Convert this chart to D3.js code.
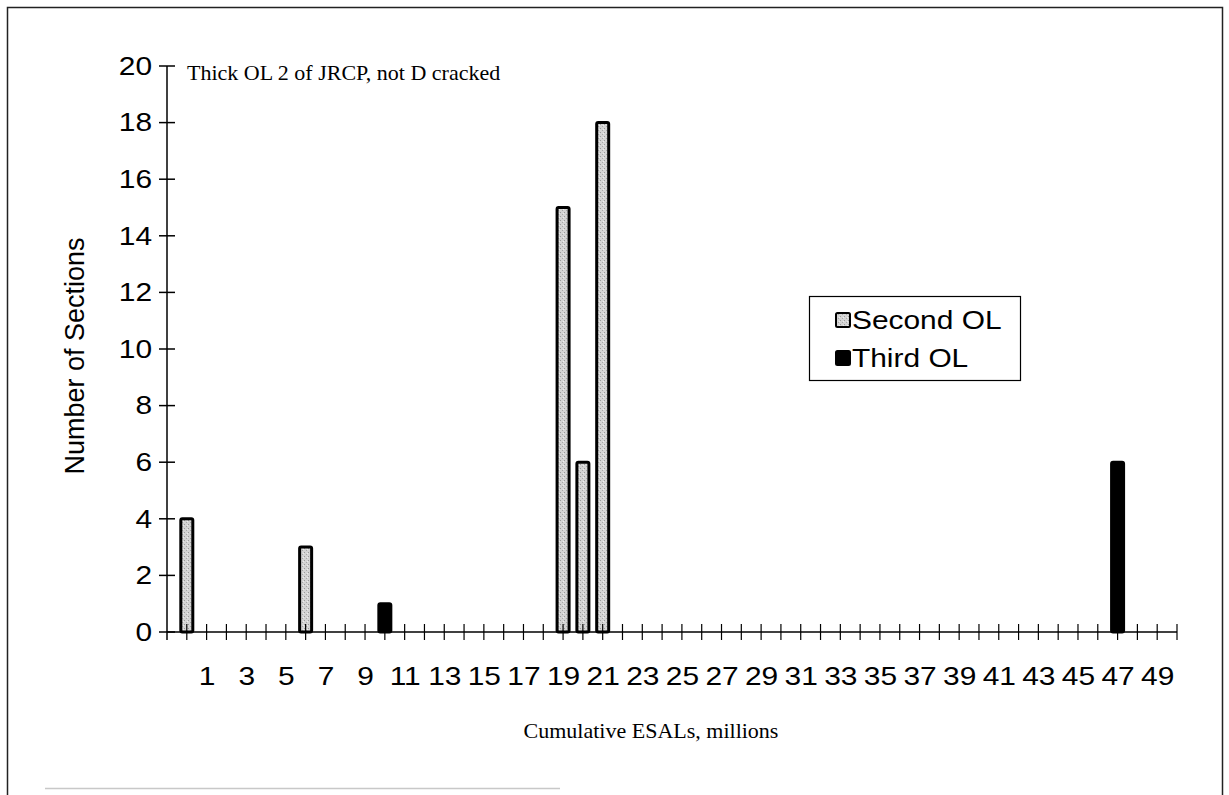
<!DOCTYPE html>
<html>
<head>
<meta charset="utf-8">
<script src="https://cdn.jsdelivr.net/npm/d3@7"></script>
<style>
  html, body { margin: 0; padding: 0; background: #fff; }
  svg { display: block; }
</style>
</head>
<body>
<svg id="chart" width="1229" height="795"></svg>
<script>
// ---------- data ----------
const categories = d3.range(0, 51);            // cumulative ESALs, millions (0..50)
const xTickLabels = [1,3,5,7,9,11,13,15,17,19,21,23,25,27,29,31,33,35,37,39,41,43,45,47,49];
const yTicks = [0,2,4,6,8,10,12,14,16,18,20];
const secondOL = [ {x:0, v:4}, {x:6, v:3}, {x:19, v:15}, {x:20, v:6}, {x:21, v:18} ];
const thirdOL  = [ {x:10, v:1}, {x:47, v:6} ];
const seriesNames = ["Second OL", "Third OL"];
const chartTitle = "Thick OL 2 of JRCP, not D cracked";
const xTitle = "Cumulative ESALs, millions";
const yTitle = "Number of Sections";

// ---------- layout ----------
const svg = d3.select("#chart");
const plot = {left: 167, right: 1177, top: 66, bottom: 632};
const sans = "Liberation Sans, Arial, sans-serif";
const serif = "Liberation Serif, Times New Roman, serif";
const stretch = 1.15;

const x = d3.scaleLinear().domain([-1, 50]).range([plot.left, plot.right]);
const y = d3.scaleLinear().domain([0, 20]).range([plot.bottom, plot.top]);

// stipple pattern
const defs = svg.append("defs");
const pat = defs.append("pattern").attr("id", "stipple")
  .attr("patternUnits", "userSpaceOnUse").attr("width", 4).attr("height", 4);
pat.append("rect").attr("width", 4).attr("height", 4).attr("fill", "#d4d4d4");
pat.append("rect").attr("x", 0).attr("y", 0).attr("width", 1).attr("height", 1).attr("fill", "#9a9a9a");
pat.append("rect").attr("x", 2).attr("y", 2).attr("width", 1).attr("height", 1).attr("fill", "#a8a8a8");
pat.append("rect").attr("x", 3).attr("y", 1).attr("width", 1).attr("height", 1).attr("fill", "#eeeeee");

// outer frame
svg.append("path")
  .attr("d", "M7.5,795 V7.5 H1222.5 V795")
  .attr("fill", "none").attr("stroke", "#222").attr("stroke-width", 1.5);
svg.append("line").attr("x1", 45).attr("x2", 560).attr("y1", 788.5).attr("y2", 788.5)
  .attr("stroke", "#c8c8c8").attr("stroke-width", 1.5);

// bars
const barW = 12;
svg.append("g").selectAll("rect").data(secondOL).join("rect")
  .attr("x", d => x(d.x) - barW/2)
  .attr("y", d => y(d.v))
  .attr("width", barW)
  .attr("height", d => y(0) - y(d.v))
  .attr("rx", 1.5)
  .attr("fill", "url(#stipple)")
  .attr("stroke", "#000").attr("stroke-width", 3);

svg.append("g").selectAll("rect").data(thirdOL).join("rect")
  .attr("x", d => x(d.x) - barW/2)
  .attr("y", d => y(d.v))
  .attr("width", barW)
  .attr("height", d => y(0) - y(d.v))
  .attr("rx", 1.5)
  .attr("fill", "#000")
  .attr("stroke", "#000").attr("stroke-width", 3);

// y axis
const yAxis = d3.axisLeft(y).tickValues(yTicks).tickSize(0).tickPadding(13);
const gy = svg.append("g").attr("transform", `translate(${plot.left},0)`).call(yAxis);
gy.select(".domain").remove();
gy.selectAll(".tick text").attr("font-family", sans)
  .attr("font-size", 26).attr("fill", "#000")
  .attr("transform", `scale(${stretch},1)`);
svg.append("line").attr("x1", plot.left).attr("x2", plot.left)
  .attr("y1", plot.top).attr("y2", plot.bottom + 8)
  .attr("stroke", "#000").attr("stroke-width", 1.5);
svg.append("g").selectAll("line").data(yTicks).join("line")
  .attr("x1", plot.left - 8).attr("x2", plot.left + 8)
  .attr("y1", d => y(d)).attr("y2", d => y(d))
  .attr("stroke", "#000").attr("stroke-width", 1.5);

// x axis
const xAxis = d3.axisBottom(x).tickValues(xTickLabels).tickSize(0).tickPadding(35)
  .tickFormat(d3.format("d"));
const gx = svg.append("g").attr("transform", `translate(0,${plot.bottom})`).call(xAxis);
gx.select(".domain").remove();
gx.selectAll(".tick text").attr("font-family", sans)
  .attr("font-size", 26).attr("fill", "#000")
  .attr("transform", `scale(${stretch},1)`);
svg.append("line").attr("x1", plot.left).attr("x2", plot.right)
  .attr("y1", plot.bottom).attr("y2", plot.bottom)
  .attr("stroke", "#000").attr("stroke-width", 1.5);
svg.append("g").selectAll("line").data(categories).join("line")
  .attr("x1", d => x(d)).attr("x2", d => x(d))
  .attr("y1", plot.bottom - 8).attr("y2", plot.bottom + 8)
  .attr("stroke", "#000").attr("stroke-width", 1.2);

// titles
svg.append("text").attr("x", 187).attr("y", 80)
  .attr("font-family", serif).attr("font-size", 22)
  .text(chartTitle);
svg.append("text").attr("x", 651).attr("y", 738).attr("text-anchor", "middle")
  .attr("font-family", serif).attr("font-size", 22)
  .text(xTitle);
svg.append("text").attr("transform", "translate(84,356) rotate(-90)").attr("text-anchor", "middle")
  .attr("font-family", sans).attr("font-size", 27)
  .text(yTitle);

// legend
const lg = svg.append("g");
lg.append("rect").attr("x", 809.5).attr("y", 296.5).attr("width", 211).attr("height", 84)
  .attr("fill", "#fff").attr("stroke", "#000").attr("stroke-width", 1.2);
const fills = ["url(#stipple)", "#000"];
seriesNames.forEach((n, i) => {
  const cy = 320 + i * 38;
  lg.append("rect").attr("x", 836).attr("y", cy - 7).attr("width", 14).attr("height", 14)
    .attr("rx", 1.5).attr("fill", fills[i]).attr("stroke", "#000").attr("stroke-width", 2);
  lg.append("text").attr("transform", `translate(852,${cy + 9}) scale(${stretch},1)`)
    .attr("font-family", sans).attr("font-size", 26)
    .text(n);
});
</script>
</body>
</html>
